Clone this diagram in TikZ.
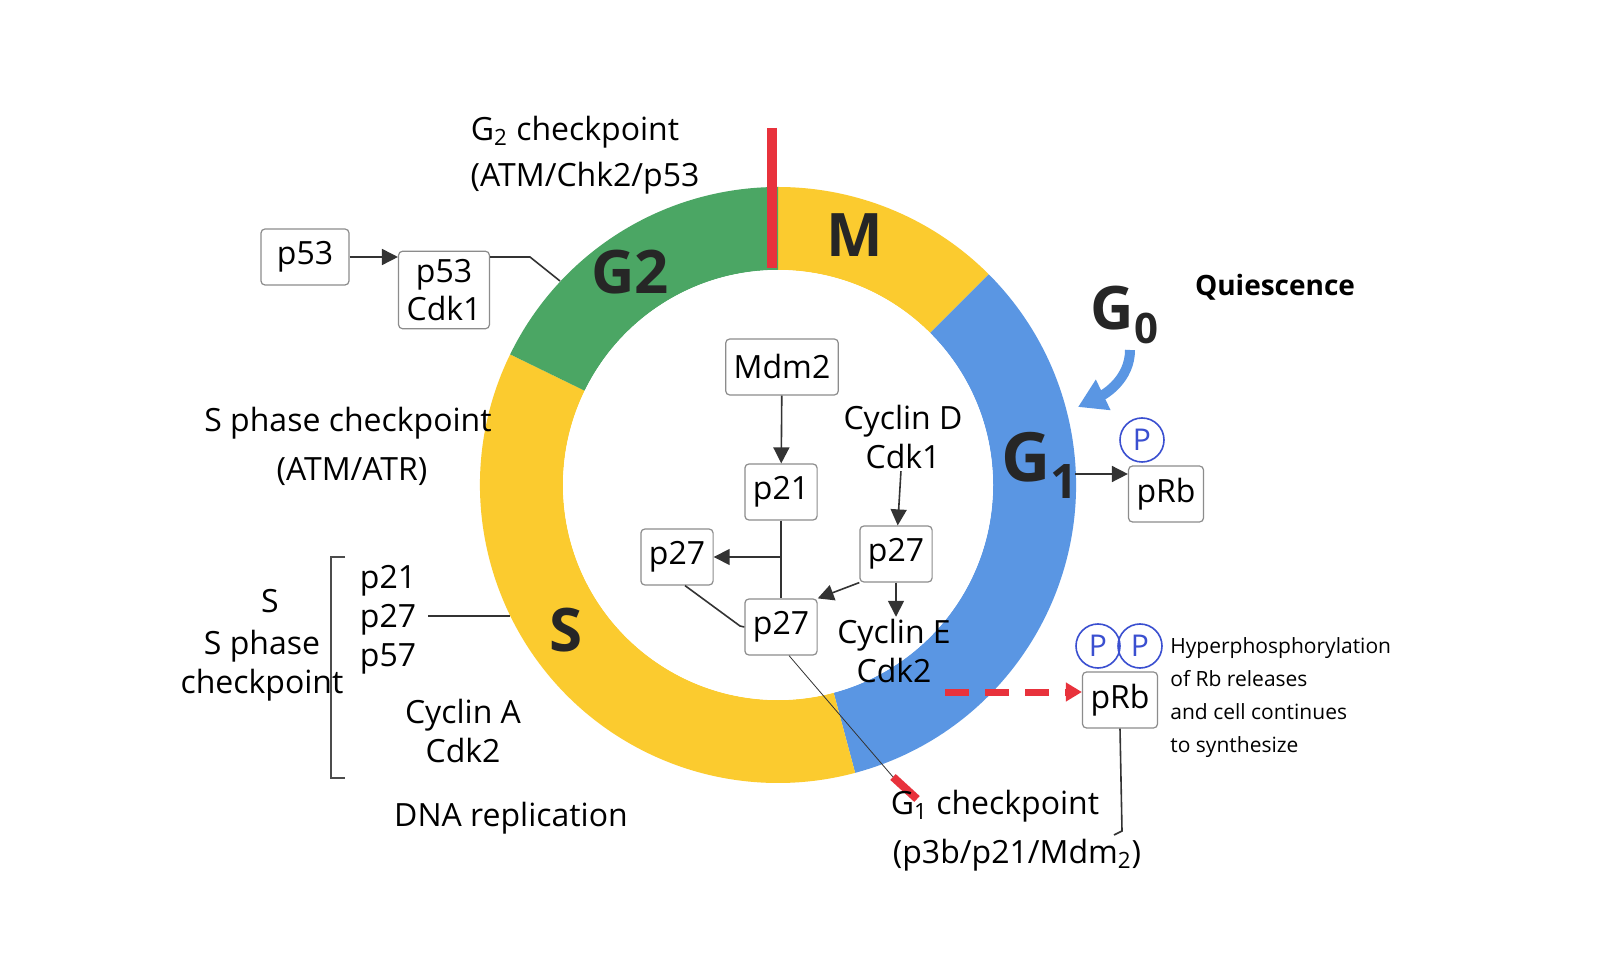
\documentclass[tikz,border=0pt]{standalone}
\usepackage{fontspec}
\setmainfont{Open Sans}
\usetikzlibrary{arrows.meta,positioning}
\definecolor{phaseyellow}{HTML}{FBCB2F}
\definecolor{phaseblue}{HTML}{5A96E3}
\definecolor{phasegreen}{HTML}{4BA664}
\definecolor{checkred}{HTML}{E8323C}
\definecolor{pblue}{HTML}{3A4FD0}
\newcommand{\ringpart}[3]{%
  \fill[#1] (778,474) ++(#2:298) arc (#2:#3:298) -- ++(#3+180:83) arc (#3:#2:215) -- cycle;}
\begin{document}
\begin{tikzpicture}[x=0.5pt,y=0.5pt,
  txt/.style={font=\fontsize{16}{19.5}\selectfont, align=center, inner sep=1pt},
  small txt/.style={font=\fontsize{10.5}{16.5}\selectfont, align=left, inner sep=1pt},
  phase/.style={font=\fontsize{30}{32}\selectfont\bfseries, text=black!85},
  box/.style={draw=black!45, rounded corners=2pt, fill=white, semithick, font=\fontsize{16}{19}\selectfont, align=center, minimum height=28pt, inner sep=4pt},
  pcircle/.style={circle, draw=pblue, thick, text=pblue, font=\fontsize{15}{16}\selectfont, inner sep=1.5pt, minimum size=22pt},
  link/.style={draw=black!80, thick},
  arr/.style={draw=black!80, thick, -{Triangle[length=8pt,width=8pt]}}]
\fill[white] (0,0) rectangle (1600,959);
% ring of phases
\ringpart{phaseyellow}{45}{90}
\ringpart{phaseblue}{-75}{45}
\ringpart{phaseyellow}{154}{285}
\ringpart{phasegreen}{90}{154}
\fill[white] (778,474) circle (215);
% checkpoint marks
\draw[checkred, line width=5pt] (772,831) -- (772,691);
\coordinate (g1a) at (893,182);
\coordinate (g1b) at (917,160);
\draw[checkred, line width=4pt] (g1a) -- (g1b);

% phase labels
\node[phase] (lM) at (855,724) {M};
\node[phase] (lG2) at (630,687) {G2};
\node[phase] (lS) at (566,329) {S};
\node[phase, font=\fontsize{34}{36}\selectfont\bfseries] (lG1) at (1040,494) {G\textsubscript{1}};
\node[phase] (lG0) at (1125,644) {G\textsubscript{0}};
\node[txt, font=\fontsize{14}{16}\selectfont\bfseries] (quies) at (1275,672) {Quiescence};
\coordinate (g0a) at (1130,609);
\coordinate (g0b) at (1078,552);
\draw[phaseblue, line width=5pt, -{Triangle[length=14pt,width=16pt]}] (g0a) .. controls (1130,580) and (1105,565) .. (g0b);

% G2 side
\node[txt] (g2chk) at (575,827) {G\textsubscript{2} checkpoint};
\node[txt] (g2chk2) at (585,781) {(ATM/Chk2/p53};
\node[box, minimum width=44pt] (p53) at (305,702) {p53};
\node[box] (p53cdk) at (444,669) {p53\\Cdk1};
\draw[arr] (p53.east) -- (p53.east -| p53cdk.west);
\coordinate (g2a) at (530,702);
\coordinate (g2b) at (560,678);
\draw[link] (p53cdk.east |- g2a) -- (g2a) -- (g2b);

% S side
\node[txt] (schk) at (348,536) {S phase checkpoint};
\node[txt] (schk2) at (352,487) {(ATM/ATR)};
\coordinate (brt) at (345,402);
\coordinate (brb) at (345,181);
\draw[black!70, thick] (brt) -- ++(-14,0) |- (brb);
\node[txt] (sS) at (270,358) {S};
\node[txt] (sS2) at (262,293) {S phase\\checkpoint};
\node[txt] (sinh) at (388,339) {p21\\p27\\p57};
\coordinate (sline) at (510,343);
\draw[link] (428,343) -- (sline);
\node[txt] (cycA) at (463,228) {Cyclin A\\Cdk2};
\node[txt] (dna) at (511,141) {DNA replication};

% inner pathway
\node[box] (mdm2) at (782,592) {Mdm2};
\node[box] (p21) at (781,467) {p21};
\node[box] (p27l) at (677,402) {p27};
\node[box] (p27r) at (896,405) {p27};
\node[box] (p27c) at (781,332) {p27};
\node[txt] (cycD) at (903,522) {Cyclin D\\Cdk1};
\node[txt] (cycE) at (894,308) {Cyclin E\\Cdk2};
\draw[arr] (mdm2) -- (p21);
\draw[link] (p21) -- (p27c);
\draw[arr] (781,402) -- (p27l.east);
\draw[link] (p27l.south) ++(8,0) -- (740,333) -- (p27c.west);
\draw[arr] (cycD) -- (p27r);
\draw[arr] (p27r.south west) -- (p27c.north east);
\draw[arr] (p27r.south) -- (cycE.north -| p27r.south);
\draw[black!80] (p27c.south) ++(8,0) -- (g1a);

% G1 side
\node[box] (prb1) at (1166,465) {pRb};
\node[pcircle] (pa) at (1142,519) {P};
\coordinate (g1out) at (1075,485);
\draw[arr] (g1out) -- (g1out -| prb1.west);
\node[box] (prb2) at (1120,259) {pRb};
\node[pcircle] (pb) at (1098,313) {P};
\node[pcircle] (pc) at (1140,313) {P};
\coordinate (red0) at (945,267);
\draw[checkred, line width=3.5pt, dash pattern=on 12pt off 8pt, -{Triangle[length=8pt,width=9pt]}] (red0) -- (red0 -| prb2.west);
\node[small txt, anchor=north west] (hyper) at (1168,324) {Hyperphosphorylation\\ of Rb releases\\ and cell continues\\ to synthesize};
\coordinate (rbend) at (1122,128);
\draw[link] (prb2.south) -- (rbend) -- ++(-8,-4);
\node[txt] (g1chk) at (995,153) {G\textsubscript{1} checkpoint};
\node[txt] (g1chk2) at (1017,104) {(p3b/p21/Mdm\textsubscript{2})};
\pgfresetboundingbox
\useasboundingbox (0,0) rectangle (1600,959);
\end{tikzpicture}
\end{document}
